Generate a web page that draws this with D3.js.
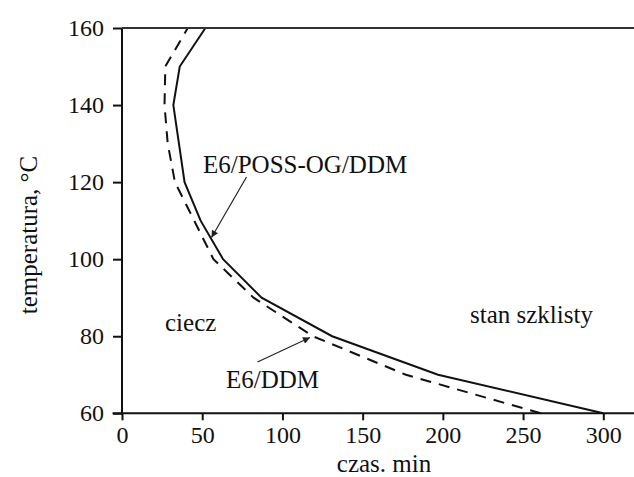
<!DOCTYPE html>
<html>
<head>
<meta charset="utf-8">
<script src="https://cdn.jsdelivr.net/npm/d3@7"></script>
<style>
	body { margin: 0; background: #fff; }
</style>
</head>
<body>
<div id="app"></div>
<script>
// Temperature vs. time chart (two curves).

var temps = [60, 70, 80, 90, 100, 110, 120, 130, 140, 150, 160];
var timePOSS = [300, 197, 131, 87, 63, 49, 39, 35.5, 32, 36, 52];	// E6/POSS-OG/DDM, solid
var timeDDM = [261, 177, 119, 82, 57, 45, 33, 28.5, 26.5, 27, 41];	// E6/DDM, dashed
var xTicks = [0, 50, 100, 150, 200, 250, 300];
var xMinor = [25, 75, 125, 175, 225, 275];
var yTicks = [60, 80, 100, 120, 140, 160];
var yMinor = [70, 90, 110, 130, 150];

var width = 634, height = 477;
var serif = "Liberation Serif, Tinos, Noto Serif, DejaVu Serif, FreeSerif, Nimbus Roman, Times New Roman, Times, serif";

var svg = d3.select("#app")
	.append("svg")
	.attr("width", width)
	.attr("height", height);

var x = d3.scaleLinear().domain([0, 300]).range([122, 603.3]);
var y = d3.scaleLinear().domain([60, 160]).range([413.3, 28]);

svg.append("defs").append("marker")
	.attr("id", "arrow")
	.attr("viewBox", "0 0 10 10")
	.attr("refX", 10).attr("refY", 5)
	.attr("markerWidth", 9).attr("markerHeight", 7)
	.attr("markerUnits", "userSpaceOnUse")
	.attr("orient", "auto")
	.append("path")
	.attr("d", "M0,0 L10,5 L0,10 Z")
	.attr("fill", "#222");

// Curves
var line = d3.line()
	.x(function (d) {return x(d[0]);})
	.y(function (d) {return y(d[1]);});

svg.append("path")
	.datum(d3.zip(timeDDM, temps))
	.attr("d", line)
	.attr("fill", "none")
	.attr("stroke", "#111")
	.attr("stroke-width", 2)
	.attr("stroke-dasharray", "11,8");

svg.append("path")
	.datum(d3.zip(timePOSS, temps))
	.attr("d", line)
	.attr("fill", "none")
	.attr("stroke", "#111")
	.attr("stroke-width", 2);

// Axes
var gx = svg.append("g").attr("transform", "translate(0," + y(60) + ")");
gx.call(d3.axisBottom(x).tickValues(xMinor).tickSize(4).tickFormat(""));
gx.call(d3.axisBottom(x).tickValues(xTicks).tickSize(7).tickPadding(6));
gx.selectAll(".domain").remove();
gx.append("line")
	.attr("x1", 112.5).attr("x2", width)
	.attr("stroke", "#111").attr("stroke-width", 2);

var gy = svg.append("g").attr("transform", "translate(" + x(0) + ",0)");
gy.call(d3.axisLeft(y).tickValues(yMinor).tickSize(5).tickFormat(""));
gy.call(d3.axisLeft(y).tickValues(yTicks).tickSize(9).tickPadding(9));
gy.selectAll(".domain").remove();
gy.append("line")
	.attr("y1", y(160)).attr("y2", y(60))
	.attr("stroke", "#111").attr("stroke-width", 2);

svg.selectAll("g").attr("font-family", null).attr("font-size", null);
svg.selectAll(".tick line").attr("stroke", "#111").attr("stroke-width", 2);
svg.selectAll(".tick text")
	.style("font-family", serif)
	.style("font-size", "24px")
	.attr("fill", "#111");

// Top frame line
svg.append("line")
	.attr("x1", x(0)).attr("x2", width)
	.attr("y1", y(160)).attr("y2", y(160))
	.attr("stroke", "#333").attr("stroke-width", 2);

// Texts
function label (tx, ty, s, anchor, rot)
{
	var t = svg.append("text")
		.attr("x", tx).attr("y", ty)
		.style("font-family", serif)
		.style("font-size", "25px")
		.attr("fill", "#111")
		.attr("text-anchor", anchor || "start")
		.text(s);
	if (rot)
		t.attr("x", 0).attr("y", 0).attr("transform", "translate(" + tx + "," + ty + ") rotate(-90)");
	return t;
}

label(384, 472, "czas. min", "middle");
label(37, 235, "temperatura, °C", "middle", true);
label(203, 172.5, "E6/POSS-OG/DDM");
label(165, 330.5, "ciecz");
label(470, 322.5, "stan szklisty");
label(226, 388.3, "E6/DDM");

function arrow (x1, y1, x2, y2)
{
	svg.append("line")
		.attr("x1", x1).attr("y1", y1)
		.attr("x2", x2).attr("y2", y2)
		.attr("stroke", "#222").attr("stroke-width", 1.2)
		.attr("marker-end", "url(#arrow)");
}

arrow(246.5, 177, 211.5, 237.5);
arrow(257.5, 362, 310, 337.5);
</script>
</body>
</html>
